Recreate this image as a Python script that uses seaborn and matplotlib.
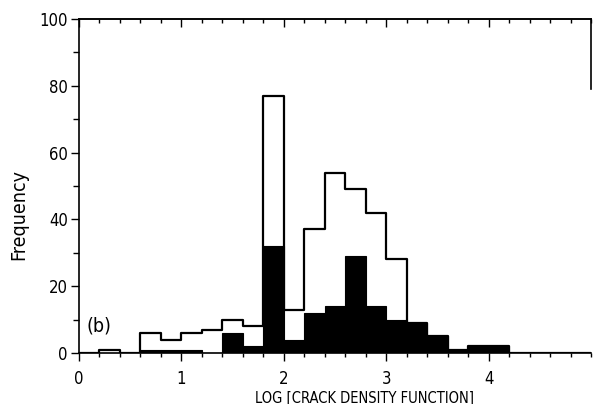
import numpy as np
import pandas as pd
import matplotlib
matplotlib.use("Agg")
import matplotlib.pyplot as plt
from matplotlib.ticker import MultipleLocator, NullFormatter
import seaborn as sns

# Histogram bins of log(crack density function), width 0.2
bin_left = [0.0, 0.2, 0.4, 0.6, 0.8, 1.0, 1.2, 1.4, 1.6, 1.8, 2.0, 2.2, 2.4,
            2.6, 2.8, 3.0, 3.2, 3.4, 3.6, 3.8, 4.0, 4.2, 4.4, 4.6, 4.8]
total_counts = [0, 1, 0, 6, 4, 6, 7, 10, 8, 77, 13, 37, 54,
                49, 42, 28, 9, 5, 1, 2, 2, 0, 0, 0, 0]
subset_counts = [0, 0, 0, 1, 1, 1, 0, 6, 2, 32, 4, 12, 14,
                 29, 14, 10, 9, 5, 1, 2, 2, 0, 0, 0, 0]

bin_width = 0.2
edges = [round(v, 1) for v in np.arange(0, 5.0 + 1e-9, bin_width)]

df = pd.DataFrame({
    "center": np.array(bin_left) + bin_width / 2,
    "total": total_counts,
    "subset": subset_counts,
})

sns.set_theme(style="ticks")
plt.rcParams["font.family"] = ["DejaVu Sans"]
plt.rcParams["font.stretch"] = "condensed"
plt.rcParams["text.color"] = "black"
plt.rcParams["axes.labelcolor"] = "black"
plt.rcParams["xtick.color"] = "black"
plt.rcParams["ytick.color"] = "black"

fig = plt.figure(figsize=(5.93, 4.04), dpi=100)
ax = fig.add_axes([0.1332, 0.1262, 0.8634, 0.8268])

sns.histplot(data=df, x="center", weights="subset", bins=edges,
             element="bars", fill=True, color="black", edgecolor="black",
             linewidth=0.8, alpha=1.0, ax=ax)
sns.histplot(data=df, x="center", weights="total", bins=edges,
             element="step", fill=False, color="black", linewidth=1.6, ax=ax)

ax.set_xlim(0, 5.0)
ax.set_ylim(0, 100)

ax.set_xticks([0, 1, 2, 3, 4])
ax.set_xticklabels(["0", "1", "2", "3", "4"])
ax.xaxis.set_minor_locator(MultipleLocator(0.2))
ax.yaxis.set_major_locator(MultipleLocator(20))
ax.yaxis.set_minor_locator(MultipleLocator(10))

ax.tick_params(axis="x", which="major", direction="out", length=6, width=1,
               labelsize=12, pad=6)
ax.tick_params(axis="x", which="minor", direction="out", length=3, width=1)
ax.tick_params(axis="y", which="major", direction="out", length=6, width=1,
               labelsize=12, pad=2)
ax.tick_params(axis="y", which="minor", direction="out", length=4, width=1)

# top frame carries inward ticks without labels
top = ax.secondary_xaxis("top")
top.set_xticks([0, 1, 2, 3, 4])
top.xaxis.set_minor_locator(MultipleLocator(0.2))
top.xaxis.set_major_formatter(NullFormatter())
top.tick_params(which="major", direction="in", length=6, width=1)
top.tick_params(which="minor", direction="in", length=3, width=1)
top.spines["top"].set_linewidth(1.2)

for s in ax.spines.values():
    s.set_color("black")
    s.set_linewidth(1.2)
ax.spines["right"].set_bounds(79, 100)

ax.set_xlabel("LOG [CRACK DENSITY FUNCTION]", fontsize=10.5)
ax.set_ylabel("Frequency", fontsize=14)
ax.yaxis.set_label_coords(-0.10, 0.416)
ax.xaxis.set_label_coords(0.557, -0.112)

ax.text(0.07, 8, "(b)", fontsize=14, ha="left", va="center")

fig.savefig("out.png", dpi=100)
